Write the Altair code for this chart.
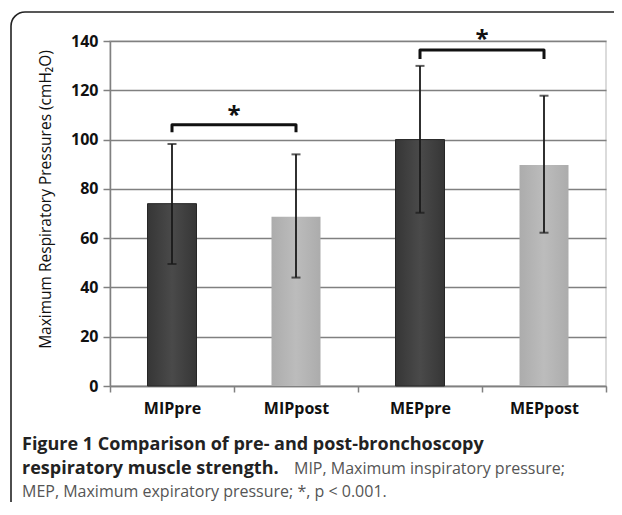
import altair as alt
import pandas as pd

categories = ["MIPpre", "MIPpost", "MEPpre", "MEPpost"]
phase = ["pre", "post", "pre", "post"]
means = [74, 68.7, 100, 89.7]
err_low = [49.5, 44, 70.3, 62.2]
err_high = [98.2, 94, 129.9, 117.8]

bracket_x = ["MIPpre", "MIPpre", "MIPpost", "MIPpost", "MEPpre", "MEPpre", "MEPpost", "MEPpost"]
bracket_y = [103, 106, 106, 103, 132.7, 136.3, 136.3, 132.7]
bracket_group = ["MIP"] * 4 + ["MEP"] * 4
bracket_order = [0, 1, 2, 3, 0, 1, 2, 3]

star_x = ["MIPpost", "MEPpost"]
star_y = [111.5, 142.3]

caption_1 = "Figure 1 Comparison of pre- and post-bronchoscopy"
caption_2_bold = "respiratory muscle strength."
caption_2_norm = "MIP, Maximum inspiratory pressure;"
caption_3 = "MEP, Maximum expiratory pressure; *, p < 0.001."

bars = pd.DataFrame({"cat": categories, "phase": phase, "mean": means,
                     "lo": err_low, "hi": err_high})
brk = pd.DataFrame({"cat": bracket_x, "y": bracket_y, "g": bracket_group, "o": bracket_order})
stars = pd.DataFrame({"cat": star_x, "y": star_y, "t": ["*", "*"]})

xscale = alt.Scale(domain=categories, paddingInner=0, paddingOuter=0)
X = alt.X("cat:N", scale=xscale, sort=categories,
          axis=alt.Axis(title=None, labelAngle=0, grid=False, tickBand="extent",
                        tickSize=6, labelPadding=8, labelFontSize=16))
yscale = alt.Scale(domain=[0, 140], nice=False)
Y = alt.Y("mean:Q", scale=yscale,
          axis=alt.Axis(values=list(range(0, 141, 20)), grid=True, tickSize=7,
                        labelPadding=5, labelFontSize=16,
                        title="Maximum Respiratory Pressures (cmH\u2082O)",
                        titlePadding=17, titleFontSize=15.5, titleY=158))


def grad(edge, mid):
    return alt.Gradient(gradient="linear", x1=0, x2=1, y1=0, y2=0,
                        stops=[alt.GradientStop(color=edge, offset=0),
                               alt.GradientStop(color=mid, offset=0.5),
                               alt.GradientStop(color=edge, offset=1)])


base = alt.Chart(bars)
pre_bars = base.transform_filter(alt.datum.phase == "pre").mark_bar(
    size=49, color=grad("#363636", "#4a4a4a"), stroke="#262626", strokeWidth=1
).encode(x=X, y=Y)
post_bars = base.transform_filter(alt.datum.phase == "post").mark_bar(
    size=49, color=grad("#acacac", "#bcbcbc")
).encode(x=X, y=Y)

err = base.mark_rule(color="#1a1a1a", strokeWidth=1.8).encode(
    x=alt.X("cat:N", sort=categories), y="lo:Q", y2="hi:Q")
cap_lo = base.mark_tick(color="#1a1a1a", size=9, thickness=2).encode(
    x=alt.X("cat:N", sort=categories), y="lo:Q")
cap_hi = base.mark_tick(color="#1a1a1a", size=9, thickness=2).encode(
    x=alt.X("cat:N", sort=categories), y="hi:Q")

bracket = alt.Chart(brk).mark_line(color="#111", strokeWidth=3, strokeJoin="round",
                                   strokeCap="butt").encode(
    x=alt.X("cat:N", sort=categories), y="y:Q", detail="g:N", order="o:Q")

star = alt.Chart(stars).mark_text(font="Open Sans", fontWeight="bold", fontSize=24,
                                  baseline="middle", dy=5, color="#111").encode(
    x=alt.X("cat:N", sort=categories, bandPosition=0), y="y:Q", text="t:N")

one = pd.DataFrame({"k": [0]})
frame = alt.Chart(one).mark_rect(fillOpacity=0, stroke="#222", strokeWidth=1.6,
                                 cornerRadiusTopLeft=14, cornerRadiusBottomLeft=14,
                                 cornerRadiusTopRight=0, cornerRadiusBottomRight=0).encode(
    x=alt.value(-99), x2=alt.value(520), y=alt.value(-29), y2=alt.value(474))

cap_font = "Open Sans"
t1 = alt.Chart(one).mark_text(text=caption_1, font=cap_font, fontWeight="bold", fontSize=18,
                              align="left", baseline="alphabetic", color="#222").encode(
    x=alt.value(-88), y=alt.value(409))
t2a = alt.Chart(one).mark_text(text=caption_2_bold, font=cap_font, fontWeight="bold", fontSize=18,
                               align="left", baseline="alphabetic", color="#222").encode(
    x=alt.value(-88), y=alt.value(433))
t2b = alt.Chart(one).mark_text(text=caption_2_norm, font=cap_font, fontWeight="normal", fontSize=16,
                               align="left", baseline="alphabetic", color="#555").encode(
    x=alt.value(184), y=alt.value(433))
t3 = alt.Chart(one).mark_text(text=caption_3, font=cap_font, fontWeight="normal", fontSize=16,
                              align="left", baseline="alphabetic", color="#555").encode(
    x=alt.value(-88), y=alt.value(456))

chart = alt.layer(
    frame, pre_bars, post_bars, err, cap_lo, cap_hi, bracket, star, t1, t2a, t2b, t3
).properties(
    width=496, height=345,
    autosize=alt.AutoSizeParams(type="none"),
    padding={"left": 102, "top": 33, "right": 8, "bottom": 116},
).configure_view(
    stroke="#cfcfcf", strokeWidth=1.5
).configure_axis(
    labelFont="Open Sans", labelFontWeight="bold", labelFontSize=14, labelColor="#111",
    domainColor="#808080", domainWidth=1.5, tickColor="#808080", tickWidth=1.5,
    gridColor="#808080", gridWidth=1.5,
    titleFont="Open Sans", titleFontWeight="normal", titleFontSize=14, titleColor="#111"
)

chart.save("out.html", embed_options={"renderer": "svg", "actions": False})
